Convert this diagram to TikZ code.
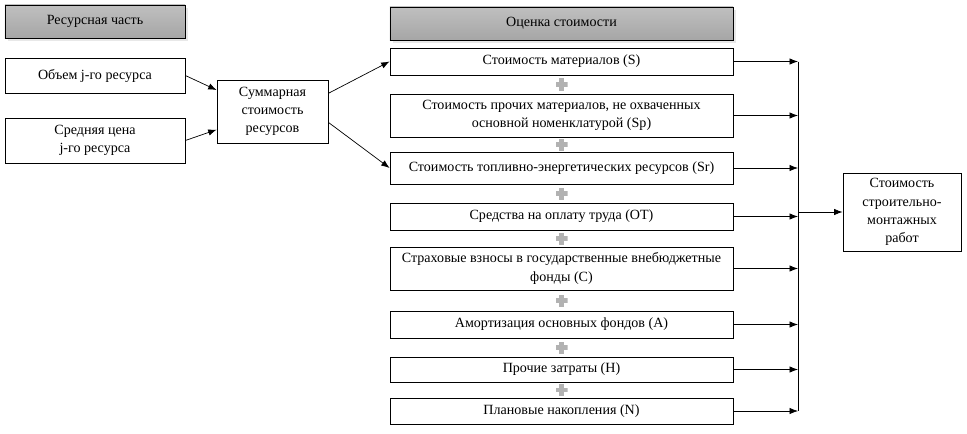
\documentclass[tikz,border=0pt]{standalone}
\usepackage{fontspec}
\setmainfont{Liberation Serif}
\usetikzlibrary{arrows.meta}
\usetikzlibrary{shadows}
\usetikzlibrary{calc}

\tikzset{
  box/.style={draw, line width=0.5pt, fill=white, align=center, inner sep=1pt,
    font=\fontsize{10}{13}\selectfont},
  header/.style={box, top color=gray!50, middle color=gray!15, bottom color=gray!70,
    drop shadow={shadow xshift=2pt, shadow yshift=-2pt, fill=gray!35}},
  costbox/.style={box, minimum width=8.575cm},
  link/.style={line width=0.5pt, -{Latex[length=6pt,width=4.5pt]}},
  plussign/.style={minimum size=0.3cm, inner sep=0pt, path picture={
    \fill[gray!60] ([xshift=-1.7pt]path picture bounding box.north) rectangle ([xshift=1.7pt]path picture bounding box.south);
    \fill[gray!60] ([yshift=1.7pt]path picture bounding box.west) rectangle ([yshift=-1.7pt]path picture bounding box.east);
  }}
}

\begin{document}
\begin{tikzpicture}[x=0.025cm, y=-0.025cm]
  \useasboundingbox (0,0) rectangle (967,434);

  % resource part
  \node[header, minimum width=4.5cm, minimum height=0.825cm] (hdrres) at (95,21.5) {Ресурсная часть};
  \node[box, minimum width=4.5cm, minimum height=0.875cm] (volume) at (95,75.5) {Объем j-го ресурса};
  \node[box, minimum width=4.5cm, minimum height=1.125cm] (price) at (95,140.5) {Средняя цена\\j-го ресурса};
  \node[box, minimum width=2.775cm, minimum height=1.575cm] (total) at (272.5,111.5) {Суммарная\\стоимость\\ресурсов};

  % cost estimate
  \node[header, minimum width=8.575cm, minimum height=0.825cm] (hdrcost) at (561.5,23.5) {Оценка стоимости};
  \node[costbox, minimum height=0.675cm] (S) at (561.5,61.5) {Стоимость материалов (S)};
  \node[costbox, minimum height=1.075cm] (Sp) at (561.5,115.5) {Стоимость прочих материалов, не охваченных\\основной номенклатурой (Sp)};
  \node[costbox, minimum height=0.8cm] (Sr) at (561.5,168) {Стоимость топливно-энергетических ресурсов (Sr)};
  \node[costbox, minimum height=0.675cm] (OT) at (561.5,216.5) {Средства на оплату труда (ОТ)};
  \node[costbox, minimum height=1.075cm] (C) at (561.5,268.5) {Страховые взносы в государственные внебюджетные\\фонды (С)};
  \node[costbox, minimum height=0.675cm] (A) at (561.5,324.5) {Амортизация основных фондов (А)};
  \node[costbox, minimum height=0.625cm] (H) at (561.5,369.5) {Прочие затраты (Н)};
  \node[costbox, minimum height=0.65cm] (N) at (561.5,411) {Плановые накопления (N)};

  \node[box, minimum width=2.95cm, minimum height=1.95cm] (smr) at (902,212) {Стоимость\\строительно-\\монтажных\\работ};

  \foreach \a/\b in {S/Sp,Sp/Sr,Sr/OT,OT/C,C/A,A/H,H/N}
  {
  \node[plussign] (plus\a) at ($(\a.south)!0.5!(\b.north)$) {};
}

  \draw[link] (volume.east) -- (total.159);
  \draw[link] (price.east) -- (total.198);
  \draw[link] (total.18) -- (S.west);
  \draw[link] (total.-11) -- (Sr.west);

  \coordinate (bus) at (798,212);
  \foreach \n in {S,Sp,Sr,OT,C,A,H,N}
  {
  \draw[link] (\n.east) -- (bus |- \n.east);
}
  \draw[line width=0.5pt] (bus |- S.east) -- (bus |- N.east);
  \draw[link] (bus) -- (smr.west);
\end{tikzpicture}
\end{document}
